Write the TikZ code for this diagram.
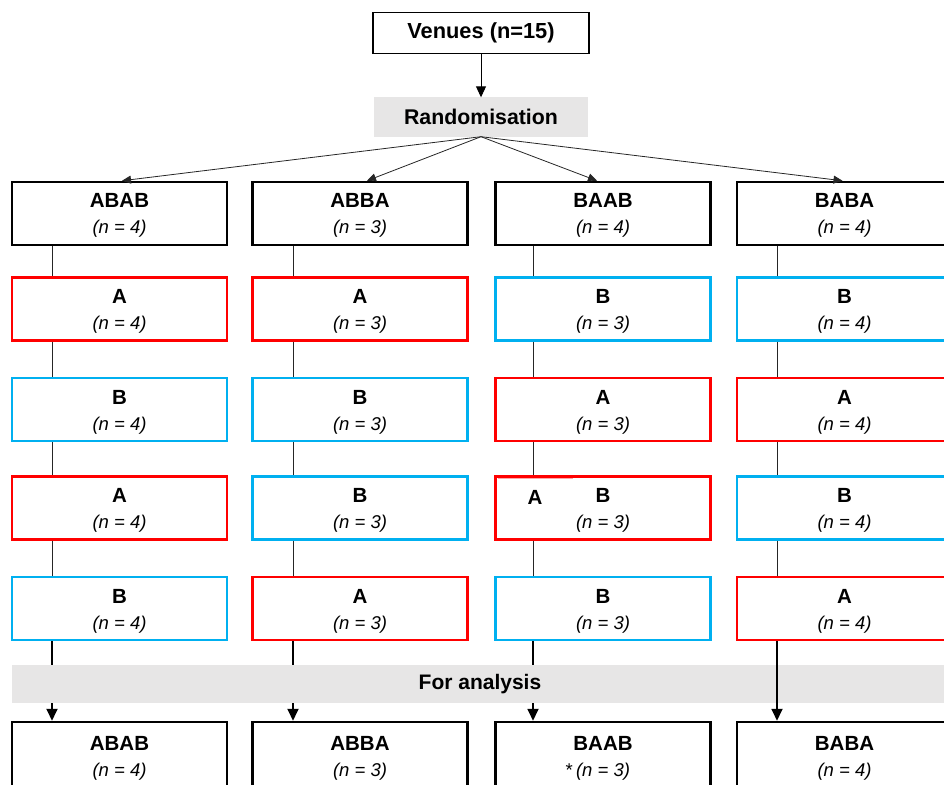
\documentclass[tikz,border=0pt]{standalone}
\usepackage{fontspec}
\setmainfont{Liberation Sans}
\usetikzlibrary{arrows.meta}
\definecolor{cA}{HTML}{FF0000}
\definecolor{cB}{HTML}{00B0F0}
\definecolor{barg}{HTML}{E7E6E6}
\newcommand\seqtxt[3][18.5bp]{\rule{0pt}{#1}{\fontsize{20.5bp}{26bp}\selectfont\textbf{#2}}\\\textit{(n = #3)}}
\begin{document}
\begin{tikzpicture}[x=1bp,y=-1bp,
  box/.style={draw, minimum width=215bp, minimum height=63bp, inner sep=0pt, align=center,
    font=\fontsize{18.5bp}{26bp}\selectfont},
  seqbox/.style={box, line width=2.5bp, draw=black},
  abox/.style={box, line width=2.1bp, draw=cA},
  bbox/.style={box, line width=2.1bp, draw=cB},
  bar/.style={fill=barg, inner sep=0pt, font=\bfseries\fontsize{21bp}{24bp}\selectfont},
  thinline/.style={line width=0.8bp, draw=black!85},
  thickline/.style={line width=1.8bp, draw=black},
  tipr/.style={-{Triangle[length=9bp,width=8bp]}},
  tipv/.style={-{Triangle[length=11bp,width=10bp]}},
  tipb/.style={-{Triangle[length=12bp,width=11bp]}},
]
\useasboundingbox (0,0) rectangle (944,785);
\clip (0,0) rectangle (944,785);

% top
\node[draw, line width=1.5bp, minimum width=216bp, minimum height=41bp, inner sep=0pt,
  font=\bfseries\fontsize{21.8bp}{24bp}\selectfont] (ven) at (481,33) {Venues (n=15)};
\node[bar, minimum width=214bp, minimum height=39bp, font=\bfseries\fontsize{21.3bp}{24bp}\selectfont]
  (rand) at (481,117) {Randomisation};

% column 1
\node[seqbox] (t1) at (119.5,213.5) {\seqtxt{ABAB}{4}};
\node[abox]   (p1) at (119.5,309)   {\seqtxt[19.5bp]{A}{4}};
\node[bbox]   (q1) at (119.5,409.5) {\seqtxt[19.5bp]{B}{4}};
\node[abox]   (r1) at (119.5,508)   {\seqtxt[19.5bp]{A}{4}};
\node[bbox]   (s1) at (119.5,608.5) {\seqtxt[19.5bp]{B}{4}};
\node[seqbox, minimum height=66bp] (e1) at (119.5,755) {\seqtxt[21.5bp]{ABAB}{4}};

% column 2
\node[seqbox] (t2) at (360,213.5) {\seqtxt{ABBA}{3}};
\node[abox]   (p2) at (360,309)   {\seqtxt[19.5bp]{A}{3}};
\node[bbox]   (q2) at (360,409.5) {\seqtxt[19.5bp]{B}{3}};
\node[bbox]   (r2) at (360,508)   {\seqtxt[19.5bp]{B}{3}};
\node[abox]   (s2) at (360,608.5) {\seqtxt[19.5bp]{A}{3}};
\node[seqbox, minimum height=66bp] (e2) at (360,755) {\seqtxt[21.5bp]{ABBA}{3}};

% column 3
\node[seqbox] (t3) at (603,213.5) {\seqtxt{BAAB}{4}};
\node[bbox]   (p3) at (603,309)   {\seqtxt[19.5bp]{B}{3}};
\node[abox]   (q3) at (603,409.5) {\seqtxt[19.5bp]{A}{3}};
\node[abox]   (r3) at (603,508)   {\seqtxt[19.5bp]{B}{3}};
\node[bbox]   (s3) at (603,608.5) {\seqtxt[19.5bp]{B}{3}};
\node[seqbox, minimum height=66bp] (e3) at (603,755)
  {\rule{0pt}{21.5bp}{\fontsize{20.5bp}{26bp}\selectfont\textbf{BAAB}}\\\llap{*\,}\textit{(n = 3)}};
\draw[cA!35, line width=1bp] (498,478) -- (573,478);
\node[font=\bfseries\fontsize{20.5bp}{26bp}\selectfont] (r3a) at (535,497.5) {A};

% column 4
\node[seqbox] (t4) at (844.5,213.5) {\seqtxt{BABA}{4}};
\node[bbox]   (p4) at (844.5,309)   {\seqtxt[19.5bp]{B}{4}};
\node[abox]   (q4) at (844.5,409.5) {\seqtxt[19.5bp]{A}{4}};
\node[bbox]   (r4) at (844.5,508)   {\seqtxt[19.5bp]{B}{4}};
\node[abox]   (s4) at (844.5,608.5) {\seqtxt[19.5bp]{A}{4}};
\node[seqbox, minimum height=66bp] (e4) at (844.5,755) {\seqtxt[21.5bp]{BABA}{4}};

% analysis bar
\node[bar, minimum width=936bp, minimum height=38bp] (fa) at (480,684) {For analysis};

% connectors
\draw[line width=1bp, tipv] (ven.south) -- (rand.north);
\draw[thinline, tipr] (rand.south) -- ([xshift=2.5bp]t1.north);
\draw[thinline, tipr] (rand.south) -- ([xshift=7bp]t2.north);
\draw[thinline, tipr] (rand.south) -- ([xshift=-6bp]t3.north);
\draw[thinline, tipr] (rand.south) -- ([xshift=-2bp]t4.north);

\foreach \i/\x in {1/52,2/293,3/533,4/777}{
  \coordinate (k\i) at (\x,0);
  \draw[thinline] (k\i |- t\i.south) -- (k\i |- p\i.north);
  \draw[thinline] (k\i |- p\i.south) -- (k\i |- q\i.north);
  \draw[thinline] (k\i |- q\i.south) -- (k\i |- r\i.north);
  \draw[thinline] (k\i |- r\i.south) -- (k\i |- s\i.north);
}
\foreach \i in {1,2,3}{
  \draw[thickline] (k\i |- s\i.south) -- (k\i |- fa.north);
  \draw[thickline, tipb] (k\i |- fa.south) -- (k\i |- e\i.north);
}
\draw[thickline, tipb] (k4 |- s4.south) -- (k4 |- e4.north);
\end{tikzpicture}
\end{document}
